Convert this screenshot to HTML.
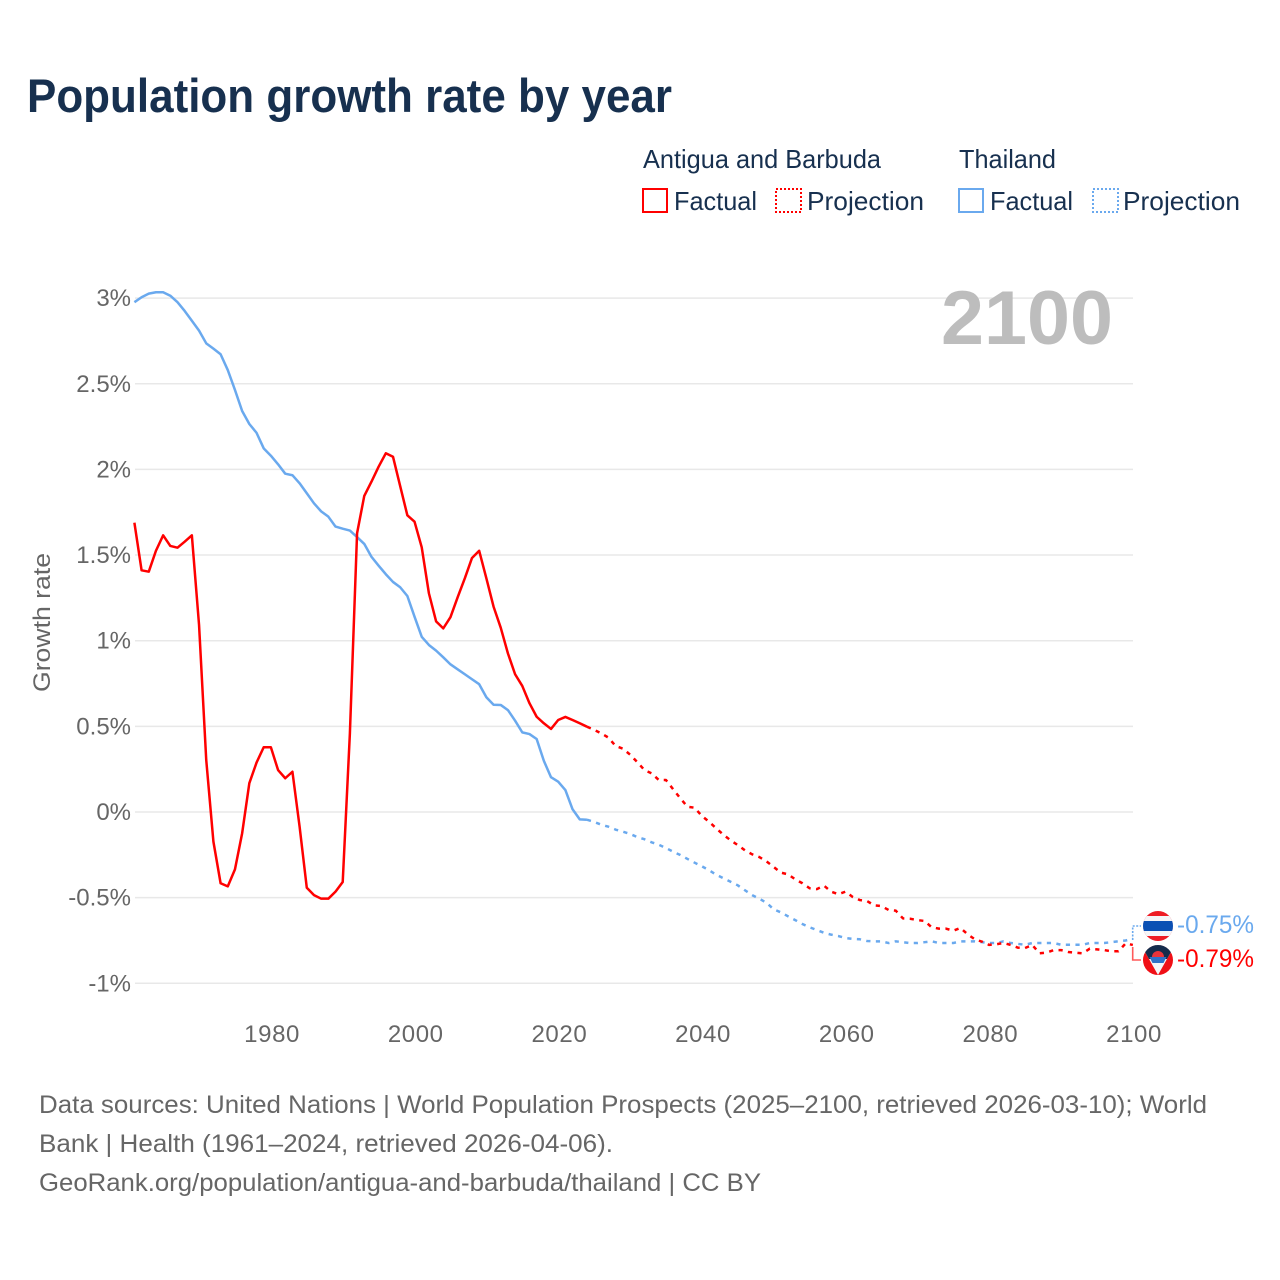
<!DOCTYPE html>
<html lang="en">
<head>
<meta charset="utf-8">
<title>Population growth rate by year</title>
<style>
html,body{margin:0;padding:0;background:#fff;width:1280px;height:1280px;overflow:hidden}
svg{display:block;font-family:"Liberation Sans",sans-serif}
.legend-text{font-size:26px;fill:#17304f}
.tick{font-size:24px;fill:#666}
.foot{font-size:25px;fill:#666}
</style>
</head>
<body>
<svg id="chart" xmlns="http://www.w3.org/2000/svg" width="1280" height="1280" viewBox="0 0 1280 1280">
  <defs>
    <clipPath id="clip-th"><circle cx="1158" cy="926" r="15"/></clipPath>
    <clipPath id="clip-ag"><circle cx="1158" cy="960" r="15"/></clipPath>
  </defs>
  <rect x="0" y="0" width="1280" height="1280" fill="#fff"/>
  <text x="27" y="112" font-size="47" font-weight="700" fill="#17304f" textLength="645" lengthAdjust="spacingAndGlyphs">Population growth rate by year</text>

  <g>
    <text class="legend-text" x="643" y="168" textLength="238" lengthAdjust="spacingAndGlyphs">Antigua and Barbuda</text>
    <text class="legend-text" x="959" y="168" textLength="97" lengthAdjust="spacingAndGlyphs">Thailand</text>
    <rect x="643" y="189" width="24" height="23" fill="none" stroke="#ff0000" stroke-width="2"/>
    <text class="legend-text" x="674" y="210" textLength="83" lengthAdjust="spacingAndGlyphs">Factual</text>
    <rect x="776" y="189" width="25" height="23" fill="none" stroke="#ff0000" stroke-width="2" stroke-dasharray="2 2"/>
    <text class="legend-text" x="807" y="210" textLength="117" lengthAdjust="spacingAndGlyphs">Projection</text>
    <rect x="959" y="189" width="24" height="23" fill="none" stroke="#6aa9ee" stroke-width="2"/>
    <text class="legend-text" x="990" y="210" textLength="83" lengthAdjust="spacingAndGlyphs">Factual</text>
    <rect x="1093" y="189" width="25" height="23" fill="none" stroke="#6aa9ee" stroke-width="2" stroke-dasharray="2 2"/>
    <text class="legend-text" x="1123" y="210" textLength="117" lengthAdjust="spacingAndGlyphs">Projection</text>
  </g>

  <g id="grid"></g>
  <g id="ylabels"></g>
  <g id="xlabels"></g>
  <text x="0" y="0" transform="translate(50,692) rotate(-90)" font-size="24" fill="#666" textLength="139" lengthAdjust="spacingAndGlyphs">Growth rate</text>
  <text x="941" y="344" font-size="76" font-weight="700" fill="#bdbdbd" textLength="172" lengthAdjust="spacingAndGlyphs">2100</text>

  <g id="series"></g>

  <g>
    <path d="M1132.7 940V926H1141" fill="none" stroke="#6aa9ee" stroke-width="1.6" stroke-dasharray="2 1.5"/>
    <path d="M1132.7 947V960H1141" fill="none" stroke="#ff5a5a" stroke-width="1.6"/>
    <g clip-path="url(#clip-th)">
      <rect x="1143" y="911" width="30" height="30" fill="#ee1c25"/>
      <rect x="1143" y="916" width="30" height="20" fill="#f4f5f8"/>
      <rect x="1143" y="921" width="30" height="10" fill="#0a50b4"/>
    </g>
    <g clip-path="url(#clip-ag)">
      <rect x="1143" y="945" width="30" height="30" fill="#f00f16"/>
      <polygon points="1140,943 1176,943 1158,975" fill="#f4f5f8"/>
      <polygon points="1140,943 1176,943 1167,959 1149,959" fill="#142c4c"/>
      <polygon points="1149.5,957 1166.5,957 1163.5,963 1152.5,963" fill="#2f72c8"/>
      <path d="M1152 957a6 6 0 0 1 12 0z" fill="#e8343a"/>
    </g>
    <text x="1177" y="933" font-size="25" fill="#6aa9ee" textLength="77" lengthAdjust="spacingAndGlyphs">-0.75%</text>
    <text x="1177" y="967" font-size="25" fill="#ff0000" textLength="77" lengthAdjust="spacingAndGlyphs">-0.79%</text>
  </g>

  <g>
    <text class="foot" x="39" y="1113" textLength="1168" lengthAdjust="spacingAndGlyphs">Data sources: United Nations | World Population Prospects (2025–2100, retrieved 2026-03-10); World</text>
    <text class="foot" x="39" y="1152" textLength="574" lengthAdjust="spacingAndGlyphs">Bank | Health (1961–2024, retrieved 2026-04-06).</text>
    <text class="foot" x="39" y="1191" textLength="722" lengthAdjust="spacingAndGlyphs">GeoRank.org/population/antigua-and-barbuda/thailand | CC BY</text>
  </g>
</svg>
<script>
const firstYear = 1961;
const projectionStartYear = 2024;
const yTicks = [3, 2.5, 2, 1.5, 1, 0.5, 0, -0.5, -1];
const yTickLabels = ['3%', '2.5%', '2%', '1.5%', '1%', '0.5%', '0%', '-0.5%', '-1%'];
const xTicks = [1980, 2000, 2020, 2040, 2060, 2080, 2100];
const xTickLabels = ['1980', '2000', '2020', '2040', '2060', '2080', '2100'];

const antiguaFactual = [1.689,1.411,1.403,1.525,1.615,1.553,1.543,1.578,1.615,1.092,0.304,-0.173,-0.416,-0.434,-0.335,-0.124,0.168,0.288,0.378,0.378,0.245,0.197,0.235,-0.086,-0.442,-0.485,-0.506,-0.506,-0.465,-0.409,0.459,1.627,1.845,1.928,2.016,2.094,2.074,1.903,1.732,1.695,1.545,1.277,1.113,1.072,1.137,1.253,1.364,1.483,1.525,1.364,1.199,1.076,0.926,0.804,0.736,0.635,0.556,0.518,0.485,0.537,0.555,0.537,0.518,0.498];

const antiguaProjection = [0.498,0.480,0.459,0.434,0.385,0.370,0.335,0.292,0.245,0.226,0.187,0.187,0.133,0.080,0.031,0.025,-0.023,-0.057,-0.095,-0.133,-0.165,-0.193,-0.224,-0.247,-0.263,-0.288,-0.321,-0.354,-0.364,-0.393,-0.416,-0.445,-0.450,-0.430,-0.465,-0.480,-0.465,-0.496,-0.514,-0.520,-0.545,-0.549,-0.572,-0.576,-0.621,-0.623,-0.631,-0.636,-0.673,-0.681,-0.681,-0.693,-0.677,-0.714,-0.743,-0.757,-0.776,-0.772,-0.765,-0.776,-0.792,-0.794,-0.776,-0.825,-0.821,-0.806,-0.806,-0.817,-0.821,-0.825,-0.798,-0.802,-0.806,-0.813,-0.813,-0.767,-0.776];

const thailandFactual = [2.976,3.005,3.026,3.034,3.034,3.014,2.976,2.925,2.868,2.810,2.736,2.705,2.672,2.580,2.464,2.341,2.265,2.214,2.123,2.080,2.030,1.975,1.966,1.919,1.861,1.802,1.755,1.724,1.666,1.654,1.643,1.605,1.565,1.490,1.438,1.388,1.343,1.312,1.261,1.140,1.023,0.975,0.942,0.903,0.862,0.833,0.804,0.775,0.746,0.670,0.626,0.625,0.595,0.533,0.465,0.455,0.426,0.299,0.203,0.177,0.128,0.016,-0.043,-0.045];

const thailandProjection = [-0.045,-0.058,-0.074,-0.086,-0.103,-0.115,-0.128,-0.146,-0.159,-0.177,-0.191,-0.210,-0.232,-0.251,-0.274,-0.296,-0.317,-0.340,-0.366,-0.387,-0.407,-0.428,-0.457,-0.485,-0.506,-0.530,-0.568,-0.586,-0.609,-0.631,-0.654,-0.673,-0.689,-0.705,-0.716,-0.724,-0.736,-0.741,-0.743,-0.753,-0.755,-0.755,-0.765,-0.755,-0.760,-0.765,-0.765,-0.760,-0.755,-0.765,-0.765,-0.765,-0.755,-0.755,-0.755,-0.760,-0.765,-0.765,-0.755,-0.765,-0.770,-0.775,-0.765,-0.765,-0.765,-0.765,-0.775,-0.775,-0.775,-0.775,-0.765,-0.765,-0.765,-0.760,-0.755,-0.750,-0.740];

const SVG_NS = 'http://www.w3.org/2000/svg';
function xScale(year) { return 134.4 + (year - 1961) * 7.183; }
function yScale(value) { return 812 - value * 171.3; }
function linePath(values, startYear) {
  return values.map(function (v, i) {
    return (i ? 'L' : 'M') + xScale(startYear + i).toFixed(2) + ' ' + yScale(v).toFixed(2);
  }).join('');
}

const gridGroup = document.getElementById('grid');
const yLabelGroup = document.getElementById('ylabels');
const xLabelGroup = document.getElementById('xlabels');
const seriesGroup = document.getElementById('series');

yTicks.forEach(function (tick, i) {
  const line = document.createElementNS(SVG_NS, 'line');
  
  
  line.setAttribute('x1', 135);
  line.setAttribute('x2', 1133);
  line.setAttribute('y1', yScale(tick));
  line.setAttribute('y2', yScale(tick));
  line.setAttribute('stroke', '#e8e8e8');
  line.setAttribute('stroke-width', '1.5');
  gridGroup.appendChild(line);
  const label = document.createElementNS(SVG_NS, 'text');
  
  
  label.setAttribute('class', 'tick');
  label.setAttribute('x', 131);
  label.setAttribute('y', yScale(tick) + 8);
  label.setAttribute('text-anchor', 'end');
  label.textContent = yTickLabels[i];
  yLabelGroup.appendChild(label);
});

xTicks.forEach(function (tick, i) {
  const label = document.createElementNS(SVG_NS, 'text');
  
  
  label.setAttribute('class', 'tick');
  label.setAttribute('x', xScale(tick) + 1.2);
  label.setAttribute('y', 1042);
  label.setAttribute('text-anchor', 'middle');
  label.setAttribute('letter-spacing', '0.6');
  label.textContent = xTickLabels[i];
  xLabelGroup.appendChild(label);
});

function drawSeries(values, startYear, color, dashed, name) {
  const path = document.createElementNS(SVG_NS, 'path');
  
  
  path.setAttribute('d', linePath(values, startYear));
  path.setAttribute('fill', 'none');
  path.setAttribute('stroke', color);
  path.setAttribute('stroke-width', '2.5');
  path.setAttribute('stroke-linejoin', 'round');
  if (dashed) { path.setAttribute('stroke-dasharray', '4.2 5.4'); }
  seriesGroup.appendChild(path);
}

drawSeries(thailandFactual, firstYear, '#6aa9ee', false, 'line-thailand-factual');
drawSeries(thailandProjection, projectionStartYear, '#6aa9ee', true, 'line-thailand-projection');
drawSeries(antiguaFactual, firstYear, '#ff0000', false, 'line-antigua-factual');
drawSeries(antiguaProjection, projectionStartYear, '#ff0000', true, 'line-antigua-projection');
</script>
</body>
</html>
